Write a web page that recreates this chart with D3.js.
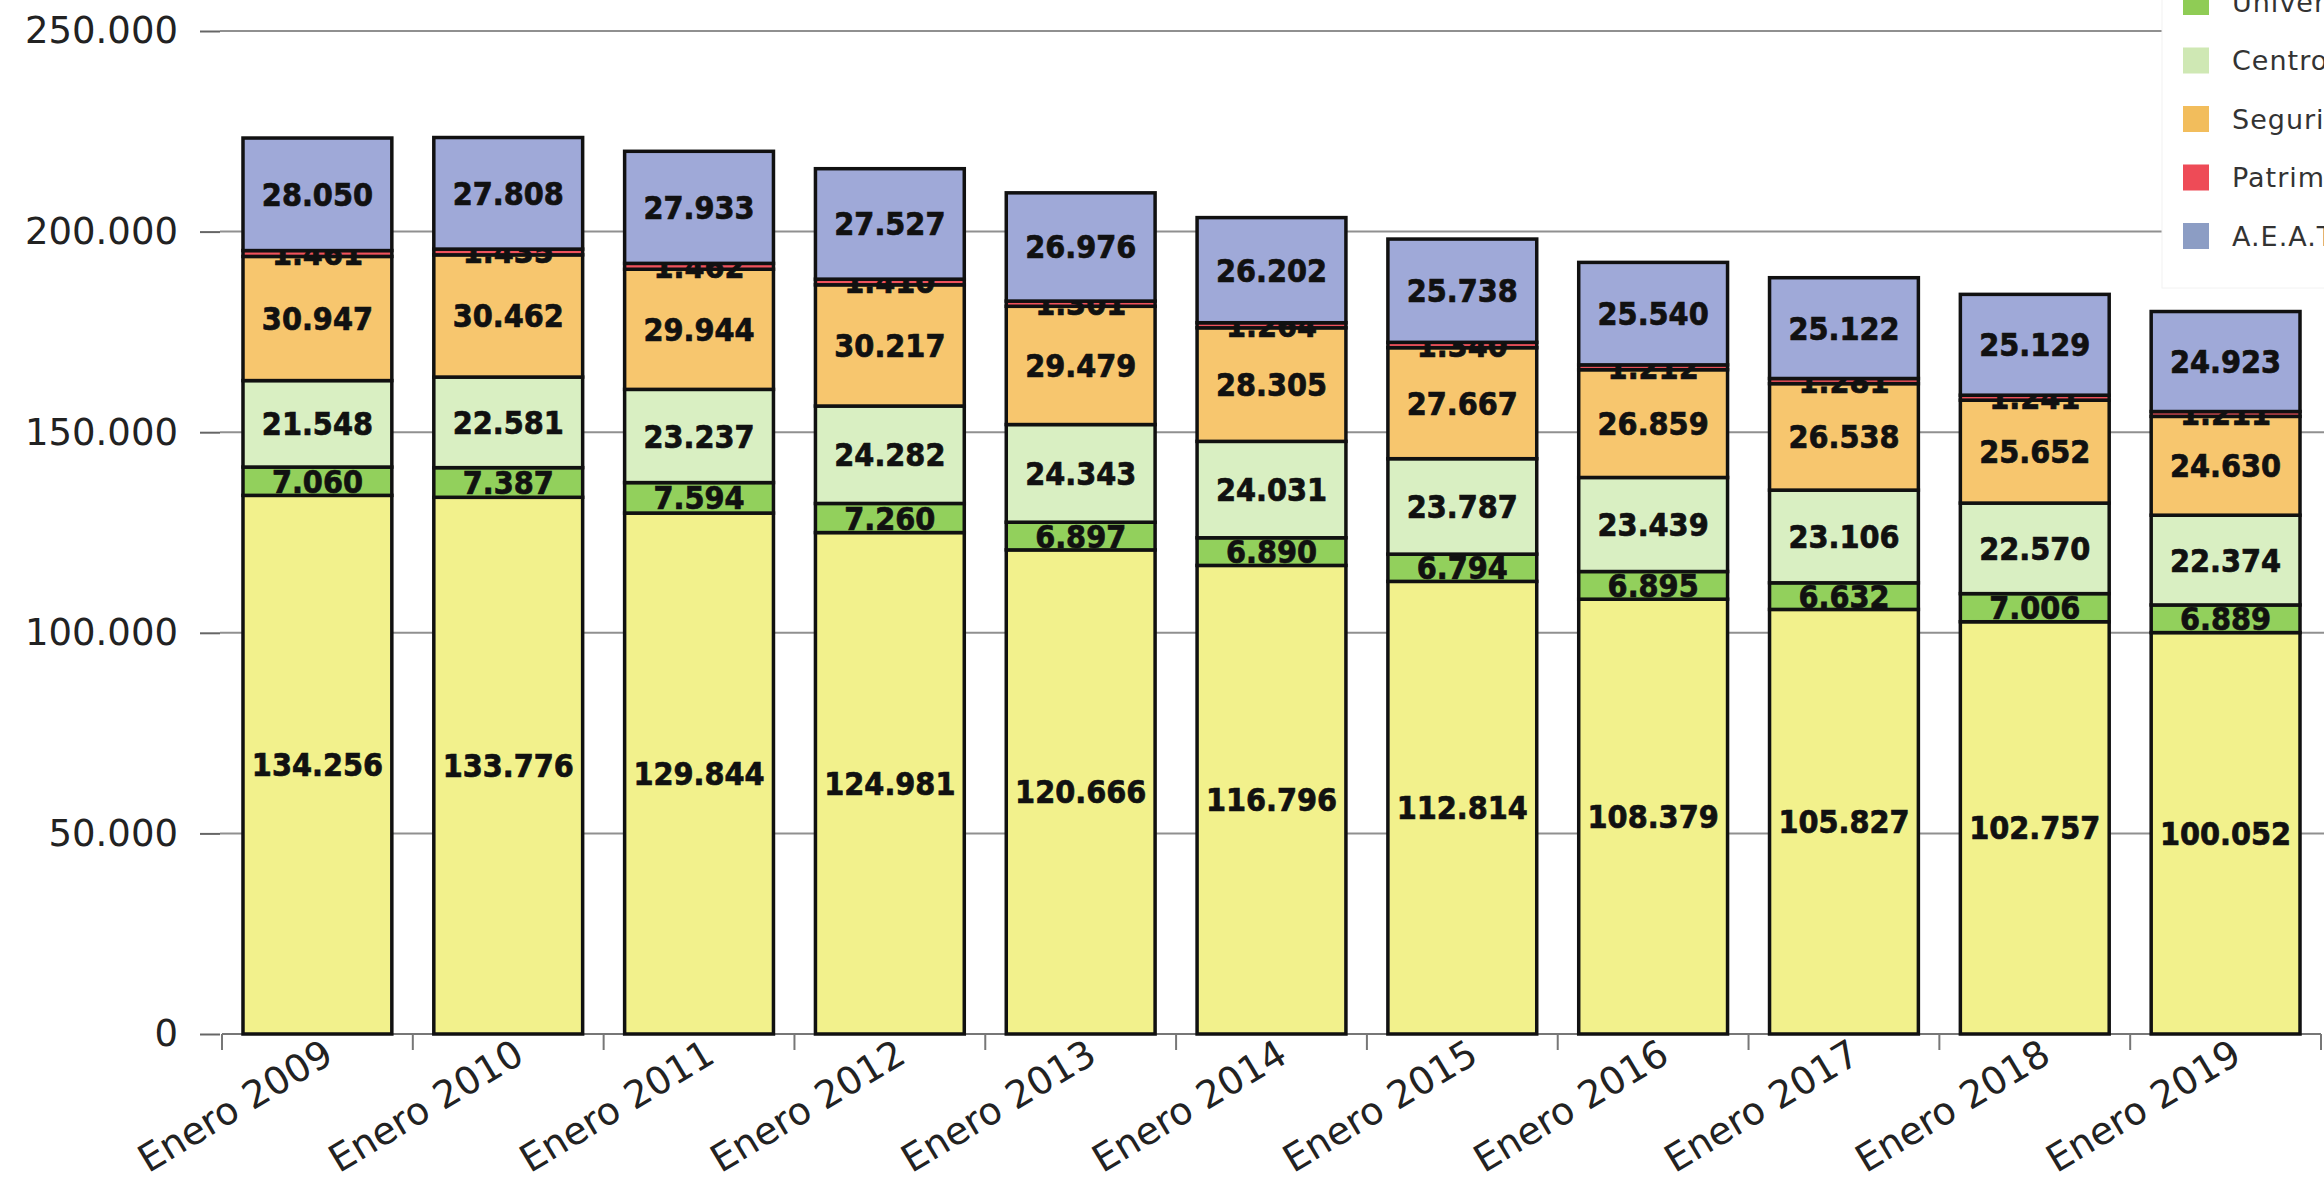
<!DOCTYPE html>
<html>

<head>
    <meta charset="utf-8">
    <title>Efectivos por año</title>
    <script src="https://d3js.org/d3.v7.min.js"></script>
    <style>
        body { margin: 0; background: #fff; }
    </style>
</head>

<body>
    <script type="text/javascript">

        // categories (x axis)
        var years = ["Enero 2009", "Enero 2010", "Enero 2011", "Enero 2012", "Enero 2013", "Enero 2014",
            "Enero 2015", "Enero 2016", "Enero 2017", "Enero 2018", "Enero 2019"];

        // series names, bottom to top
        var seriesNames = ["Ministerios y Organismos", "Universidades", "Centros y Entidades", "Seguridad Social",
            "Patrimonio Nacional", "A.E.A.T"];

        // series values
        var ministerios = [134256, 133776, 129844, 124981, 120666, 116796, 112814, 108379, 105827, 102757, 100052];
        var universidades = [7060, 7387, 7594, 7260, 6897, 6890, 6794, 6895, 6632, 7006, 6889];
        var centros = [21548, 22581, 23237, 24282, 24343, 24031, 23787, 23439, 23106, 22570, 22374];
        var seguridad = [30947, 30462, 29944, 30217, 29479, 28305, 27667, 26859, 26538, 25652, 24630];
        var patrimonio = [1461, 1435, 1462, 1410, 1301, 1264, 1340, 1212, 1281, 1241, 1211];
        var aeat = [28050, 27808, 27933, 27527, 26976, 26202, 25738, 25540, 25122, 25129, 24923];

        // y tick values
        var yTicks = [0, 50000, 100000, 150000, 200000, 250000];

        var colors = ["#f2f18c", "#92d05c", "#d9efc2", "#f7c66e", "#f0525c", "#9fa9d8"];
        var legendColors = ["#f2f18c", "#8fcc55", "#cfe8b4", "#f2bd5c", "#ee4b57", "#8c9dc4"];

        // build table for d3.stack
        var allSeries = [ministerios, universidades, centros, seguridad, patrimonio, aeat];
        var table = years.map(function (y, i) {
            var row = { year: y };
            seriesNames.forEach(function (s, j) { row[s] = allSeries[j][i]; });
            return row;
        });

        var width = 2324, height = 1177;

        // spanish number format 250.000
        var locale = d3.formatLocale({ decimal: ",", thousands: ".", grouping: [3], currency: ["", "€"] });
        var fmt = locale.format(",d");

        var svg = d3.select("body")
            .append("svg")
            .attr("width", width)
            .attr("height", height)
            .style("display", "block")
            .style("background", "#fff");

        var xScale = d3.scaleBand()
            .domain(years)
            .range([222, 2321])
            .paddingInner(0.22)
            .paddingOuter(0.11);

        var yScale = d3.scaleLinear()
            .domain([0, 250000])
            .range([1034, 31]);

        //Gridlines
        svg.append("g")
            .selectAll("line")
            .data(yTicks.slice(1))
            .enter()
            .append("line")
            .attr("x1", 220)
            .attr("x2", width)
            .attr("y1", function (d) { return yScale(d); })
            .attr("y2", function (d) { return yScale(d); })
            .attr("stroke", "#909090")
            .attr("stroke-width", 2);

        //Y axis (ticks + labels, no domain line)
        var yAxis = d3.axisLeft(yScale)
            .tickValues(yTicks)
            .tickSize(20)
            .tickPadding(22)
            .tickFormat(fmt);

        var gy = svg.append("g")
            .attr("transform", "translate(220,0)")
            .call(yAxis);
        gy.select(".domain").remove();
        gy.selectAll(".tick line").attr("stroke", "#666").attr("stroke-width", 2);
        gy.selectAll(".tick text")
            .style("font-family", "'DejaVu Sans', sans-serif")
            .style("font-size", "37px")
            .style("fill", "#222");

        //X axis line and boundary ticks
        var step = xScale.step();
        var boundaries = years.map(function (y) { return xScale(y) - step * 0.11; });
        boundaries.push(xScale(years[years.length - 1]) + xScale.bandwidth() + step * 0.11);

        svg.append("line")
            .attr("x1", boundaries[0])
            .attr("x2", boundaries[boundaries.length - 1])
            .attr("y1", yScale(0))
            .attr("y2", yScale(0))
            .attr("stroke", "#777")
            .attr("stroke-width", 2);

        svg.append("g")
            .selectAll("line")
            .data(boundaries)
            .enter()
            .append("line")
            .attr("x1", function (d) { return d; })
            .attr("x2", function (d) { return d; })
            .attr("y1", yScale(0))
            .attr("y2", yScale(0) + 16)
            .attr("stroke", "#777")
            .attr("stroke-width", 2);

        //X labels, rotated
        svg.append("g")
            .selectAll("text")
            .data(years)
            .enter()
            .append("text")
            .attr("transform", function (d) {
                var cx = xScale(d) + xScale.bandwidth() / 2 + 18;
                return "translate(" + cx + "," + (yScale(0) + 27) + ") rotate(-31)";
            })
            .attr("text-anchor", "end")
            .style("font-family", "'DejaVu Sans', sans-serif")
            .style("font-size", "38px")
            .style("fill", "#222")
            .text(function (d) { return d; });

        //Stacked bars
        var stacked = d3.stack().keys(seriesNames)(table);

        var layers = svg.append("g")
            .selectAll("g")
            .data(stacked)
            .enter()
            .append("g")
            .attr("fill", function (d, i) { return colors[i]; });

        layers.selectAll("rect")
            .data(function (d) { return d; })
            .enter()
            .append("rect")
            .attr("x", function (d) { return xScale(d.data.year); })
            .attr("y", function (d) { return yScale(d[1]); })
            .attr("width", xScale.bandwidth())
            .attr("height", function (d) { return yScale(d[0]) - yScale(d[1]); })
            .attr("stroke", "#111")
            .attr("stroke-width", 3.5);

        //Value labels, centred in each segment
        layers.selectAll("text")
            .data(function (d) { return d; })
            .enter()
            .append("text")
            .attr("x", function (d) { return xScale(d.data.year) + xScale.bandwidth() / 2; })
            .attr("y", function (d) { return (yScale(d[0]) + yScale(d[1])) / 2; })
            .attr("dy", "0.36em")
            .attr("text-anchor", "middle")
            .style("font-family", "'DejaVu Sans Condensed', 'DejaVu Sans', sans-serif")
            .style("font-stretch", "condensed")
            .style("font-weight", "bold")
            .style("font-size", "32px")
            .style("fill", "#111")
            .style("stroke", "#111")
            .style("stroke-width", "0.7px")
            .text(function (d) { return fmt(d[1] - d[0]); });

        //Legend (cut off by the right edge like the original)
        var legend = svg.append("g");
        legend.append("rect")
            .attr("x", 2162)
            .attr("y", -10)
            .attr("width", 200)
            .attr("height", 298)
            .attr("fill", "#fff")
            .attr("stroke", "#f2f2f2");

        var items = legend.selectAll("g")
            .data(seriesNames)
            .enter()
            .append("g")
            .attr("transform", function (d, i) { return "translate(0," + (2 + (i - 1) * 58.5) + ")"; });

        items.append("rect")
            .attr("x", 2183)
            .attr("y", -13)
            .attr("width", 26)
            .attr("height", 26)
            .attr("fill", function (d, i) { return legendColors[i]; });

        items.append("text")
            .attr("x", 2232)
            .attr("y", 0)
            .attr("dy", "0.36em")
            .style("font-family", "'DejaVu Sans', sans-serif")
            .style("font-size", "27px")
            .style("letter-spacing", "1px")
            .style("fill", "#333")
            .text(function (d) { return d; });

    </script>
</body>

</html>
